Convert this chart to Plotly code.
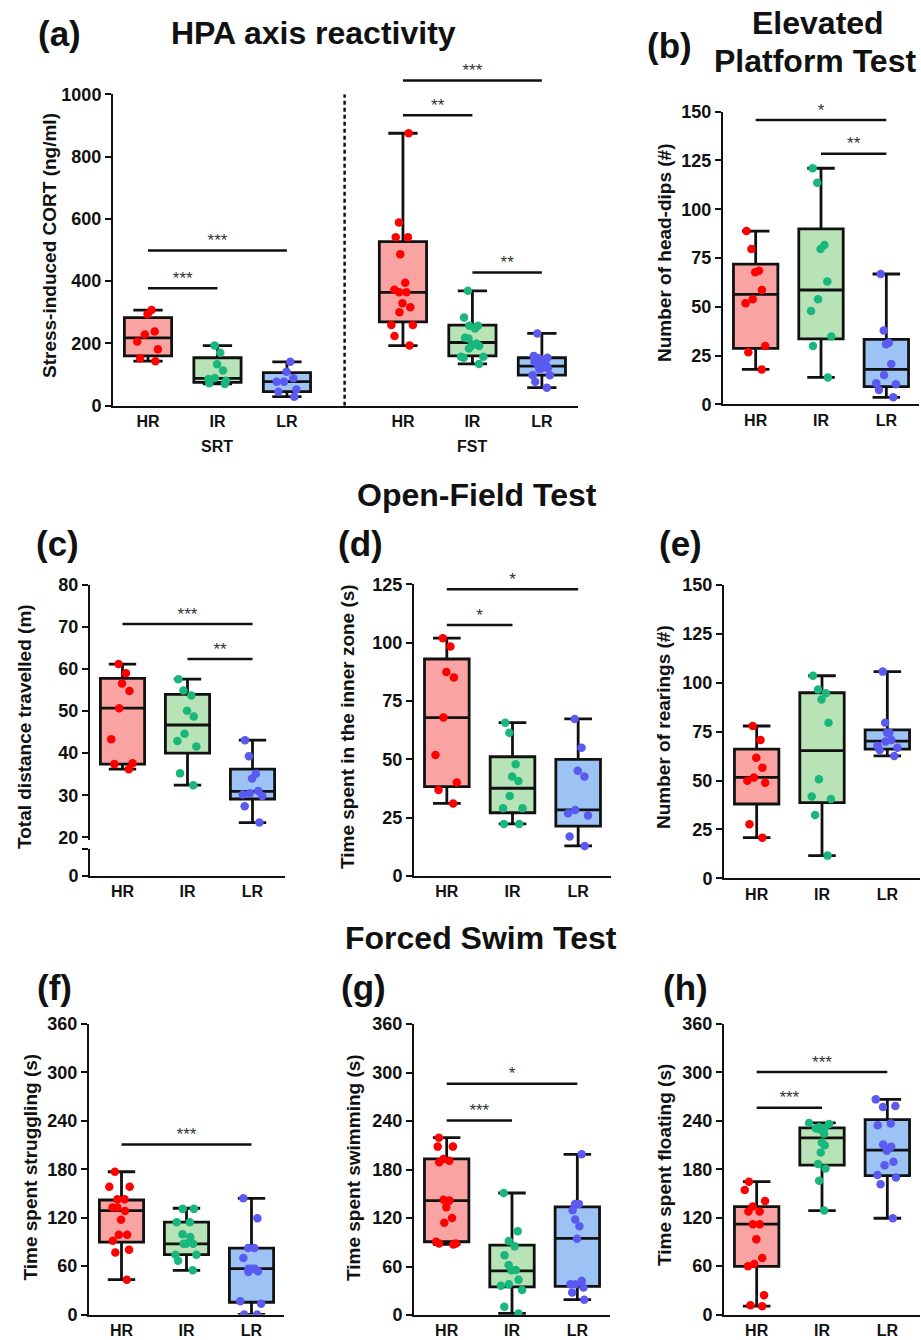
import plotly.graph_objects as go

W, H = 921, 1340
FONT = "Liberation Sans, Arial, Helvetica, sans-serif"
INK = "#111111"

groups = ["HR", "IR", "LR"]
dot_color = ["#FF0000", "#19B77B", "#5A5AF0"]
box_fill = ["#F9A3A3", "#B8E3B7", "#9DC3F5"]

# ---------------- data (points, and box stats = [min, q1, median, q3, max]) ----------------
# (a) HPA axis reactivity - SRT
a_srt_hr = [307, 294, 238, 229, 206, 181, 152, 143]
a_srt_ir = [193, 170, 133, 113, 89, 86, 80, 72, 70]
a_srt_lr = [141, 109, 88, 77, 77, 52, 45, 29]
a_srt_hr_box = [143, 160, 218, 283, 307]
a_srt_ir_box = [70, 75, 88, 154, 193]
a_srt_lr_box = [29, 45, 77, 106, 141]
# (a) HPA axis reactivity - FST
a_fst_hr = [875, 588, 541, 541, 486, 395, 372, 364, 364, 329, 316, 300, 259, 259, 224, 193]
a_fst_ir = [369, 283, 257, 257, 248, 218, 216, 200, 193, 192, 184, 157, 157, 154, 134]
a_fst_lr = [232, 160, 154, 152, 147, 141, 133, 131, 120, 120, 118, 98, 98, 77, 58]
a_fst_hr_box = [193, 269, 364, 527, 875]
a_fst_ir_box = [134, 160, 203, 259, 369]
a_fst_lr_box = [58, 98, 127, 154, 232]

# (b) Elevated platform - head-dips
b_hr = [88.8, 79.6, 68.5, 67.7, 58.6, 53.8, 51.8, 29.9, 26.7, 17.9]
b_ir = [121, 113.6, 81.7, 79.6, 62.9, 53.8, 47.8, 34.7, 29.9, 13.8]
b_lr = [66.8, 37.8, 31.6, 30.8, 20.7, 15.0, 10.8, 10.3, 7.3, 3.6]
b_hr_box = [17.9, 28.7, 56.4, 71.9, 88.8]
b_ir_box = [13.8, 33.5, 58.6, 89.9, 121]
b_lr_box = [3.6, 9.1, 17.9, 33.3, 66.8]

# (c) Open field - total distance
c_hr = [61.2, 59.0, 56.6, 54.8, 50.7, 43.3, 37.6, 37.4, 36.2]
c_ir = [57.6, 54.9, 53.7, 50.1, 48.7, 44.6, 42.9, 41.6, 35.2, 32.4]
c_lr = [43.1, 39.3, 35.1, 34.0, 31.0, 30.5, 30.2, 29.8, 27.4, 23.5]
c_hr_box = [36.2, 37.4, 50.7, 57.8, 61.2]
c_ir_box = [32.4, 40.0, 46.7, 54.0, 57.6]
c_lr_box = [23.5, 29.1, 30.9, 36.2, 43.1]

# (d) Open field - time in inner zone
d_hr = [101.9, 98.3, 87.4, 85.1, 67.9, 51.9, 40.1, 36.9, 31.1]
d_ir = [65.7, 61.4, 47.9, 42.6, 40.7, 34.3, 29.0, 29.0, 22.3, 22.3]
d_lr = [67.3, 55.0, 45.1, 42.6, 28.3, 26.9, 25.9, 16.9, 12.9]
d_hr_box = [31.1, 38.3, 67.9, 93.0, 101.9]
d_ir_box = [22.3, 27.1, 37.6, 51.1, 65.7]
d_lr_box = [12.9, 21.4, 28.3, 50.0, 67.3]

# (e) Open field - rearings
e_hr = [77.9, 70.7, 61.7, 56.6, 51.6, 49.9, 48.9, 27.6, 20.8]
e_ir = [103.6, 96.6, 94.6, 91.5, 79.6, 50.6, 41.8, 40.6, 32.4, 11.6]
e_lr = [105.7, 79.6, 74.5, 74.5, 70.7, 69.9, 67.7, 66.8, 65.6, 62.6]
e_hr_box = [20.8, 38.0, 51.6, 66.1, 77.9]
e_ir_box = [11.6, 38.7, 65.3, 94.9, 103.6]
e_lr_box = [62.6, 66.1, 70.2, 75.9, 105.7]

# (f) Forced swim - struggling
f_hr = [176.9, 158.4, 158.4, 142.8, 142.8, 132.5, 132.5, 128.4, 117.3, 98.7, 98.7, 91.3, 80.2, 76.9, 43.2]
f_ir = [130.9, 130.9, 114.4, 114.4, 99.6, 95.9, 87.6, 87.6, 87.6, 74.1, 74.1, 66.7, 54.7]
f_lr = [144, 119.3, 82.3, 82.3, 70.0, 56.8, 56.8, 56.8, 53.5, 52.7, 16.5, 13.2, 0, 0]
f_hr_box = [43.2, 89.7, 128.8, 141.9, 176.9]
f_ir_box = [54.7, 74.1, 87.6, 114.4, 131.7]
f_lr_box = [0, 15.2, 56.8, 82.3, 144]

# (g) Forced swim - swimming
g_hr = [219.4, 208.3, 208.3, 193.1, 190.7, 189.0, 142.7, 141.5, 133.3, 120.1, 114.0, 90.6, 88.6, 88.6, 87.3]
g_ir = [150.9, 103.7, 91.4, 84.9, 73.8, 61.9, 55.8, 55.4, 43.5, 38.1, 36.1, 30.8, 10.3, 2.0]
g_lr = [198.8, 137.4, 137.4, 129.6, 118.1, 109.9, 94.3, 42.2, 38.1, 38.1, 34.0, 27.9, 18.9]
g_hr_box = [87.3, 90.6, 141.5, 193.1, 219.4]
g_ir_box = [2.0, 34.9, 54.5, 86.5, 150.9]
g_lr_box = [18.9, 35.3, 94.7, 133.7, 198.8]

# (h) Forced swim - floating
h_hr = [164.6, 154.3, 140.7, 133.7, 127.5, 127.5, 111.9, 111.9, 93.4, 69.9, 62.5, 59.7, 23.9, 11.5, 10.3]
h_ir = [237.4, 236.2, 232.5, 231.0, 230.4, 229.5, 224.0, 213.0, 209.8, 200.8, 186.4, 181.0, 165.8, 128.8]
h_lr = [266.6, 258.4, 257.1, 236.6, 234.5, 210.7, 207.8, 203.0, 189.3, 185.1, 172.8, 169.9, 161.3, 119.3]
h_hr_box = [10.3, 59.7, 111.9, 133.7, 164.6]
h_ir_box = [128.8, 185.1, 218.9, 231.2, 237.4]
h_lr_box = [119.3, 172.0, 203.7, 241.5, 266.6]

# significance bars: (group1, group2, height, label)
a_srt_sig = [("HR", "LR", 498, "***"), ("HR", "IR", 377, "***")]
a_fst_sig = [("HR", "LR", 1044, "***"), ("HR", "IR", 933, "**"), ("IR", "LR", 428, "**")]
b_sig = [("HR", "LR", 145.7, "*"), ("IR", "LR", 128.5, "**")]
c_sig = [("HR", "LR", 70.7, "***"), ("IR", "LR", 62.4, "**")]
d_sig = [("HR", "LR", 122.9, "*"), ("HR", "IR", 107.6, "*")]
e_sig = []
f_sig = [("HR", "LR", 210.7, "***")]
g_sig = [("HR", "LR", 286.2, "*"), ("HR", "IR", 240.7, "***")]
h_sig = [("HR", "LR", 300.4, "***"), ("HR", "IR", 256.3, "***")]

# ---------------- layout helpers (pixel -> paper) ----------------
def xdom(x0, x1):
    return [x0 / W, x1 / W]


def ydom(top, bottom):
    return [1 - bottom / H, 1 - top / H]


BW = 0.68
FST_OFFSET = 3.67
SEP_X = 2.83

fig = go.Figure()


def add_boxes(xa, ya, positions, pts_list, stats_list):
    for i, (pos, st) in enumerate(zip(positions, stats_list)):
        fig.add_trace(go.Box(
            x=[pos], lowerfence=[st[0]], q1=[st[1]], median=[st[2]], q3=[st[3]], upperfence=[st[4]],
            boxpoints=False, fillcolor=box_fill[i], line=dict(color=INK, width=2.8),
            whiskerwidth=0.62, width=BW, xaxis=xa, yaxis=ya, hoverinfo="skip",
        ))
    for i, (pos, pts) in enumerate(zip(positions, pts_list)):
        fig.add_trace(go.Box(
            x=[pos] * len(pts), y=pts, boxpoints="all", jitter=0.6, pointpos=0, width=BW,
            fillcolor="rgba(0,0,0,0)", line=dict(color="rgba(0,0,0,0)", width=0),
            marker=dict(color=dot_color[i], size=8.5), xaxis=xa, yaxis=ya,
        ))


def add_sig(xa, ya, posmap, sigs):
    for g1, g2, yv, lab in sigs:
        x1, x2 = posmap[g1], posmap[g2]
        fig.add_trace(go.Scatter(
            x=[x1, (x1 + x2) / 2, x2], y=[yv] * 3, mode="lines+text",
            text=["", lab, ""], textposition="top center",
            textfont=dict(family=FONT, size=17, color="#333333"),
            line=dict(color=INK, width=2.5), cliponaxis=False, hoverinfo="skip",
            xaxis=xa, yaxis=ya,
        ))


def yaxis(domain, rng, tickvals, anchor, ticktext=None):
    d = dict(domain=domain, range=rng, tickvals=tickvals, ticks="outside", ticklen=6, tickwidth=2,
             tickcolor=INK, showline=True, linewidth=2, linecolor=INK, showgrid=False, zeroline=False,
             tickfont=dict(family=FONT, size=18, color=INK, weight="bold"), anchor=anchor,
             fixedrange=True, automargin=False)
    if ticktext is not None:
        d["ticktext"] = ticktext
    return d


def xaxis(domain, rng, tickvals, ticktext, anchor):
    return dict(domain=domain, range=rng, tickvals=tickvals, ticktext=ticktext, ticks="",
                showline=True, linewidth=2, linecolor=INK,
                showgrid=False, zeroline=False,
                tickfont=dict(family=FONT, size=16, color=INK, weight="bold"), anchor=anchor,
                fixedrange=True, automargin=False)


base_pos = [0, 1, 2]
posmap = dict(zip(groups, base_pos))
layout_axes = {}

# ---- panel (a)
A_TOP, A_BOT = 94.3, 405.7
a_xdom = xdom(113, 578)
a_xrng = [-0.504, 6.19]
srt_pos = base_pos
fst_pos = [p + FST_OFFSET for p in base_pos]
add_boxes("x", "y", srt_pos, [a_srt_hr, a_srt_ir, a_srt_lr], [a_srt_hr_box, a_srt_ir_box, a_srt_lr_box])
add_boxes("x", "y", fst_pos, [a_fst_hr, a_fst_ir, a_fst_lr], [a_fst_hr_box, a_fst_ir_box, a_fst_lr_box])
layout_axes["xaxis"] = xaxis(a_xdom, a_xrng, srt_pos + fst_pos, groups + groups, "y")
layout_axes["yaxis"] = yaxis(ydom(A_TOP, A_BOT), [0, 1000], list(range(0, 1001, 200)), "x")
# overlay (invisible) axes for significance bars that rise above the plotted range
ov_top = 1000 * A_BOT / (A_BOT - A_TOP)
layout_axes["xaxis10"] = dict(domain=a_xdom, range=a_xrng, visible=False, fixedrange=True, anchor="y10")
layout_axes["yaxis10"] = dict(domain=ydom(0, A_BOT), range=[0, ov_top], visible=False, fixedrange=True,
                              anchor="x10")
add_sig("x10", "y10", dict(zip(groups, srt_pos)), a_srt_sig)
add_sig("x10", "y10", dict(zip(groups, fst_pos)), a_fst_sig)

# ---- panels (b)-(h)
simple_panels = [
    ("2", xdom(723, 919), ydom(111.7, 404.3), [0, 150], list(range(0, 151, 25)),
     [b_hr, b_ir, b_lr], [b_hr_box, b_ir_box, b_lr_box], b_sig),
    ("4", xdom(414, 611), ydom(584.3, 876), [0, 125], list(range(0, 126, 25)),
     [d_hr, d_ir, d_lr], [d_hr_box, d_ir_box, d_lr_box], d_sig),
    ("5", xdom(724, 920), ydom(585, 878.3), [0, 150], list(range(0, 151, 25)),
     [e_hr, e_ir, e_lr], [e_hr_box, e_ir_box, e_lr_box], e_sig),
    ("6", xdom(89, 284), ydom(1024, 1314.5), [0, 360], list(range(0, 361, 60)),
     [f_hr, f_ir, f_lr], [f_hr_box, f_ir_box, f_lr_box], f_sig),
    ("7", xdom(414, 610), ydom(1024, 1315), [0, 360], list(range(0, 361, 60)),
     [g_hr, g_ir, g_lr], [g_hr_box, g_ir_box, g_lr_box], g_sig),
    ("8", xdom(724, 920), ydom(1024, 1314.5), [0, 360], list(range(0, 361, 60)),
     [h_hr, h_ir, h_lr], [h_hr_box, h_ir_box, h_lr_box], h_sig),
]
for n, xd, yd, yr, tv, pts, sts, sigs in simple_panels:
    add_boxes("x" + n, "y" + n, base_pos, pts, sts)
    add_sig("x" + n, "y" + n, posmap, sigs)
    layout_axes["xaxis" + n] = xaxis(xd, [-0.5, 2.5], base_pos, groups, "y" + n)
    layout_axes["yaxis" + n] = yaxis(yd, yr, tv, "x" + n)

# ---- panel (c) with broken y axis
add_boxes("x3", "y3", base_pos, [c_hr, c_ir, c_lr], [c_hr_box, c_ir_box, c_lr_box])
add_sig("x3", "y3", posmap, c_sig)
fig.add_trace(go.Scatter(x=[], y=[], xaxis="x3", yaxis="y9", showlegend=False))
layout_axes["xaxis3"] = xaxis(xdom(90, 285), [-0.5, 2.5], base_pos, groups, "y9")
layout_axes["yaxis3"] = yaxis(ydom(585, 839.8), [19.4, 80], list(range(20, 81, 10)), "x3")
layout_axes["yaxis9"] = yaxis(ydom(849, 876), [0, 1], [0, 1], "x3", ticktext=["0", ""])

# ---------------- text ----------------
ann = []


def ptext(txt, x, y, size, **kw):
    ann.append(dict(text=txt, x=x / W, y=1 - y / H, xref="paper", yref="paper", showarrow=False,
                    xanchor="center", yanchor="middle",
                    font=dict(family=FONT, size=size, color=INK, weight="bold"), **kw))


titles = [("HPA axis reactivity", 313, 33), ("Elevated", 818, 23), ("Platform Test", 815, 61),
          ("Open-Field Test", 477, 495), ("Forced Swim Test", 481, 938)]
for t, x, y in titles:
    ptext(t, x, y, 32)

panel_labels = [("(a)", 59.5, 34), ("(b)", 669, 45), ("(c)", 57, 543), ("(d)", 360, 543),
                ("(e)", 680, 543), ("(f)", 54, 988), ("(g)", 363, 988), ("(h)", 685, 988)]
for t, x, y in panel_labels:
    ptext(t, x, y, 35)

y_titles = [("Stress-induced CORT (ng/ml)", 49, 246), ("Number of head-dips (#)", 665, 253),
            ("Total distance travelled (m)", 24, 727), ("Time spent in the inner zone (s)", 347, 727),
            ("Number of rearings (#)", 663, 727), ("Time spent struggling (s)", 29.5, 1167),
            ("Time spent swimming (s)", 353, 1168), ("Time spent floating (s)", 664, 1165)]
for t, x, y in y_titles:
    ptext(t, x, y, 19, textangle=-90)

# SRT / FST group labels under panel (a)
for lab, xc in [("SRT", srt_pos[1]), ("FST", fst_pos[1])]:
    ann.append(dict(text=lab, x=xc, y=1 - 446 / H, xref="x", yref="paper", showarrow=False,
                    xanchor="center", yanchor="middle",
                    font=dict(family=FONT, size=16, color=INK, weight="bold")))

# dashed separator in panel (a)
shapes = [dict(type="line", xref="x", yref="y", x0=SEP_X, x1=SEP_X, y0=0, y1=1000,
               line=dict(color=INK, width=2.5, dash="4px,3px"))]

fig.update_layout(
    template="none",
    width=W, height=H, margin=dict(l=0, r=0, t=0, b=0, autoexpand=False),
    paper_bgcolor="white", plot_bgcolor="rgba(0,0,0,0)", showlegend=False,
    boxmode="overlay", annotations=ann, shapes=shapes,
    font=dict(family=FONT, color=INK),
    **layout_axes,
)

fig.write_html("out.html", config={"displayModeBar": False},
               post_script="document.body.style.margin='0';")
